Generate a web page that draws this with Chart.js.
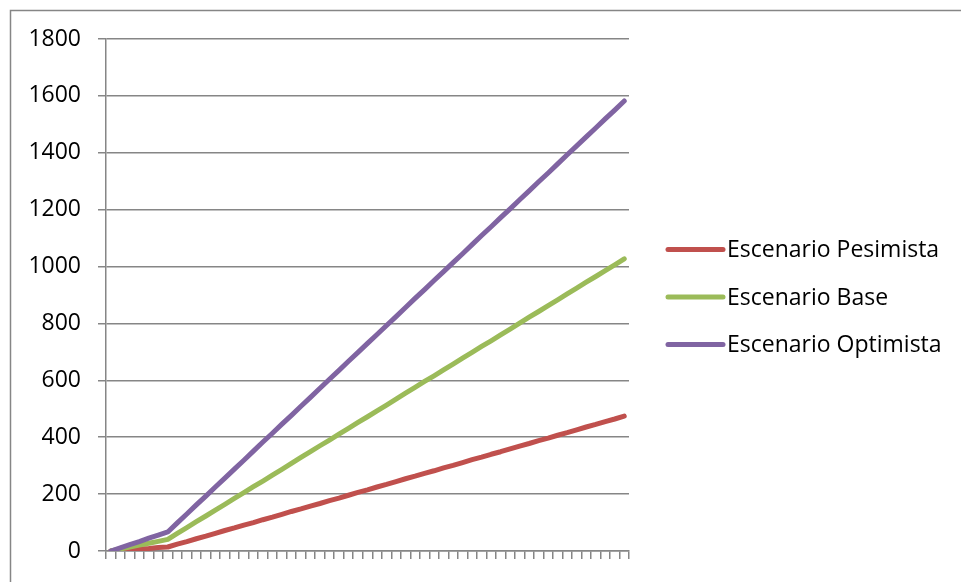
<!DOCTYPE html>
<html>
<head>
<meta charset="utf-8">
<script src="https://cdn.jsdelivr.net/npm/chart.js@4.4.1/dist/chart.umd.min.js"></script>
<style>
  html, body { margin: 0; padding: 0; background: #fff; }
  canvas { display: block; }
</style>
</head>
<body>
<canvas id="escenariosChart" width="961" height="582"></canvas>
<script>
// 55 periodos, sin etiquetas en el eje X
const periodos = Array.from({ length: 55 }, (_, i) => String(i + 1));

const pesimista = [0, 2, 5, 7, 9, 12,
    14, 24, 33, 43, 52, 62, 72, 81, 91, 100, 110, 119, 129, 139, 148, 158, 167,
    177, 186, 196, 206, 215, 225, 234, 244, 254, 263, 273, 282, 292, 301, 311,
    321, 330, 340, 349, 359, 369, 378, 388, 397, 407, 416, 426, 436, 445, 455,
    464, 474];

const base = [0, 7, 14, 21, 27, 34,
    41, 62, 82, 103, 123, 144, 164, 185, 205, 226, 246, 267, 287, 308, 329, 349,
    370, 390, 411, 431, 452, 472, 493, 513, 534, 555, 575, 596, 616, 637, 657,
    678, 698, 719, 739, 760, 780, 801, 822, 842, 863, 883, 904, 924, 945, 965,
    986, 1006, 1027];

const optimista = [0, 11, 22, 33, 45, 56,
    67, 99, 130, 162, 193, 225, 256, 288, 319, 351, 383, 414, 446, 477, 509,
    540, 572, 604, 635, 667, 698, 730, 761, 793, 824, 856, 888, 919, 951, 982,
    1014, 1045, 1077, 1109, 1140, 1172, 1203, 1235, 1266, 1298, 1329, 1361,
    1393, 1424, 1456, 1487, 1519, 1550, 1582];

const yTicks = [0, 200, 400, 600, 800, 1000, 1200, 1400, 1600, 1800];

const FONT = '"Open Sans", "Liberation Sans", sans-serif';
const GRIS = '#868686';

// marco exterior del grafico
const marco = {
    id: 'marco',
    beforeDraw(chart) {
        const ctx = chart.ctx;
        ctx.save();
        ctx.strokeStyle = GRIS;
        ctx.lineWidth = 1.5;
        ctx.strokeRect(10.5, 10.5, 1200, 1200);
        ctx.restore();
    }
};

// leyenda estilo Excel (linea + texto pegado)
const leyenda = {
    id: 'leyenda',
    afterDraw(chart) {
        const { ctx, chartArea } = chart;
        const x0 = chartArea.left + chartArea.width + 39;
        const midY = (chartArea.top + chartArea.bottom) / 2 + 2;
        ctx.save();
        ctx.font = '23px ' + FONT;
        ctx.textBaseline = 'middle';
        ctx.fillStyle = '#000';
        chart.data.datasets.forEach((ds, i) => {
            const y = midY + (i - 1) * 47.5;
            ctx.strokeStyle = ds.borderColor;
            ctx.lineWidth = 5;
            ctx.lineCap = 'round';
            ctx.beginPath();
            ctx.moveTo(x0, y);
            ctx.lineTo(x0 + 55, y);
            ctx.stroke();
            ctx.fillText(ds.label, x0 + 59, y + 1);
        });
        ctx.restore();
    }
};

const ctx = document.getElementById('escenariosChart').getContext('2d');
new Chart(ctx, {
    type: 'line',
    data: {
        labels: periodos,
        datasets: [{
            label: 'Escenario Pesimista',
            data: pesimista,
            borderColor: '#C0504D',
            order: 3
        }, {
            label: 'Escenario Base',
            data: base,
            borderColor: '#9BBB59',
            order: 2
        }, {
            label: 'Escenario Optimista',
            data: optimista,
            borderColor: '#8064A2',
            order: 1
        }]
    },
    options: {
        responsive: false,
        animation: false,
        devicePixelRatio: 1,
        layout: { padding: { top: 39, left: 28, right: 332, bottom: 0 } },
        elements: {
            line: { borderWidth: 5, tension: 0, fill: false, borderCapStyle: 'round', borderJoinStyle: 'round' },
            point: { radius: 0, hoverRadius: 0 }
        },
        plugins: {
            legend: { display: false },
            tooltip: { enabled: false }
        },
        scales: {
            x: {
                offset: true,
                grid: { display: true, offset: true, drawOnChartArea: false, drawTicks: true, tickLength: 8, color: GRIS, lineWidth: 1.5 },
                border: { display: true, color: GRIS, width: 1.5 },
                ticks: { autoSkip: false, maxRotation: 0, callback: () => '', font: { size: 1 } },
                afterFit: s => { s.height = 31; }
            },
            y: {
                min: 0,
                max: 1800,
                afterBuildTicks: s => { s.ticks = yTicks.map(v => ({ value: v })); },
                grid: { color: GRIS, lineWidth: 1.5, tickLength: 8 },
                border: { display: true, color: GRIS, width: 1.5 },
                ticks: { padding: 17, color: '#000', font: { family: FONT, size: 23 }, callback: v => String(v) },
                afterFit: s => { s.width = 78; }
            }
        }
    },
    plugins: [marco, leyenda]
});
</script>
</body>
</html>
